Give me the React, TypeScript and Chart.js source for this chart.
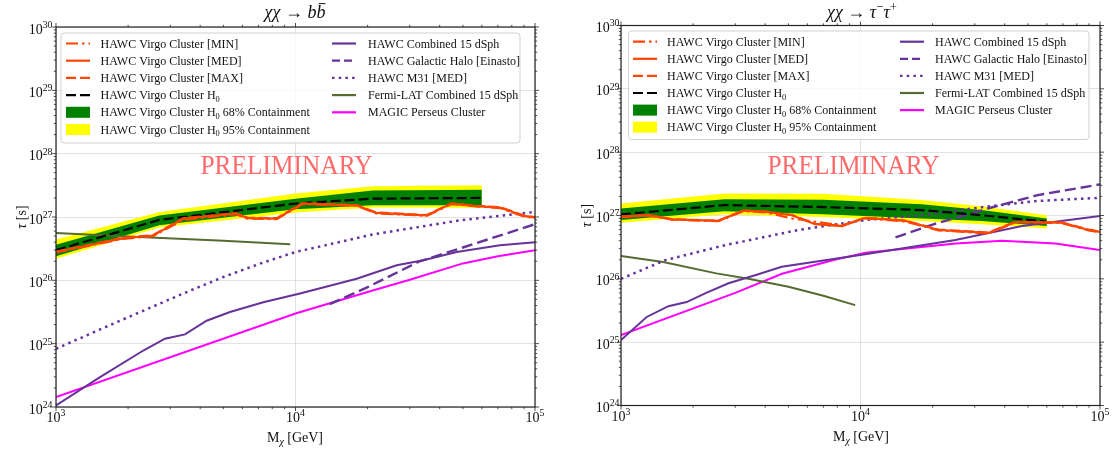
import React, { useEffect, useRef } from 'react';
import { Chart, registerables } from 'chart.js';

Chart.register(...registerables);

// ---------------- χχ → b b̄ (left panel) ----------------
const bbBandMass = [1000, 2700, 10000, 21000, 60000];
const bbH0 = [3.0e26, 9.0e26, 1.63e27, 1.95e27, 2.0e27];
const bbGreenHi = [3.66e26, 1.06e27, 1.95e27, 2.63e27, 2.7e27];
const bbGreenLo = [2.39e26, 7.4e26, 1.33e27, 1.53e27, 1.53e27];
const bbYellowHi = [4.4e26, 1.2e27, 2.35e27, 3.05e27, 3.17e27];
const bbYellowLo = [2.2e26, 6.8e26, 1.18e27, 1.41e27, 1.4e27];

const bbVirgoMass = [1000, 1900, 2550, 3390, 5630, 6300, 8350, 9480, 10700, 18000, 21700, 35300, 44850, 56900, 71500, 89800, 100000];
const bbVirgoMed = [2.8e26, 4.6e26, 5.1e26, 9.4e26, 1.13e27, 9.6e26, 9.4e26, 1.25e27, 1.63e27, 1.53e27, 1.16e27, 1.06e27, 1.63e27, 1.48e27, 1.41e27, 1.04e27, 9.8e26];
const bbVirgoMin = [2.75e26, 4.5e26, 5.0e26, 9.0e26, 1.1e27, 9.4e26, 9.2e26, 1.22e27, 1.6e27, 1.5e27, 1.14e27, 1.04e27, 1.6e27, 1.46e27, 1.38e27, 1.02e27, 9.6e26];
const bbVirgoMax = [2.85e26, 4.7e26, 5.2e26, 9.6e26, 1.15e27, 9.8e26, 9.6e26, 1.27e27, 1.65e27, 1.55e27, 1.18e27, 1.08e27, 1.65e27, 1.5e27, 1.43e27, 1.06e27, 1.0e27];

const bbFermiMass = [1000, 2000, 5000, 9500];
const bbFermi = [5.6e26, 4.9e26, 4.2e26, 3.7e26];

const bbM31Mass = [1000, 1800, 3400, 5000, 7300, 10000, 21000, 49000, 100000];
const bbM31 = [8.3e24, 2.2e25, 6.2e25, 1.13e26, 1.9e26, 2.8e26, 5.3e26, 8.9e26, 1.2e27];

const bbDsphMass = [1000, 1527, 2315, 2851, 3456, 4256, 5327, 7337, 10440, 18010, 26460, 34170, 47100, 71450, 100000];
const bbDsph = [1.06e24, 2.97e24, 7.8e24, 1.2e25, 1.4e25, 2.3e25, 3.16e25, 4.5e25, 6.2e25, 1.06e26, 1.73e26, 2.07e26, 2.8e26, 3.57e26, 4.0e26];

const bbHaloMass = [13900, 20000, 33000, 50000, 100000];
const bbHalo = [4.2e25, 7.8e25, 2.0e26, 3.3e26, 7.7e26];

const bbMagicMass = [1000, 10000, 21000, 30000, 50000, 70000, 100000];
const bbMagic = [1.43e24, 3.0e25, 6.9e25, 1.02e26, 1.85e26, 2.4e26, 3.0e26];

// ---------------- χχ → τ⁻τ⁺ (right panel) ----------------
const ttBandMass = [1000, 2700, 7000, 18000, 32000, 60000];
const ttH0 = [1.04e27, 1.46e27, 1.36e27, 1.22e27, 1.01e27, 7.95e26];
const ttGreenHi = [1.29e27, 1.8e27, 1.78e27, 1.5e27, 1.22e27, 9.0e26];
const ttGreenLo = [8.5e26, 1.17e27, 1.05e27, 9.0e26, 8.2e26, 6.8e26];
const ttYellowHi = [1.55e27, 2.23e27, 2.2e27, 1.75e27, 1.4e27, 1.01e27];
const ttYellowLo = [7.7e26, 1.05e27, 9.5e26, 8.2e26, 7.3e26, 6.25e26];

const ttVirgoMass = [1000, 1300, 1630, 2550, 3240, 4000, 5170, 6470, 8370, 10470, 15400, 21200, 34200, 44400, 69000, 89700, 100000];
const ttVirgoMed = [9.5e26, 1.01e27, 8.7e26, 8.2e26, 1.19e27, 1.15e27, 1.01e27, 7.3e26, 6.8e26, 9.2e26, 8.2e26, 5.9e26, 5.3e26, 7.9e26, 7.7e26, 5.9e26, 5.5e26];
const ttVirgoMin = [9.4e26, 1.0e27, 8.6e26, 8.1e26, 1.17e27, 1.12e27, 9.0e26, 8.0e26, 7.0e26, 9.0e26, 8.0e26, 5.8e26, 5.2e26, 7.8e26, 7.6e26, 5.8e26, 5.4e26];
const ttVirgoMax = [9.6e26, 1.02e27, 8.8e26, 8.3e26, 1.2e27, 1.16e27, 1.02e27, 7.4e26, 6.9e26, 9.3e26, 8.3e26, 6.0e26, 5.4e26, 8.0e26, 7.8e26, 6.0e26, 5.6e26];

const ttFermiMass = [1000, 1500, 2500, 3400, 5000, 7000, 9500];
const ttFermi = [2.3e26, 1.85e26, 1.22e26, 1.0e26, 7.5e25, 5.4e25, 3.85e25];

const ttM31Mass = [1000, 1530, 2720, 5500, 10500, 18100, 32000, 55000, 100000];
const ttM31 = [1.0e26, 1.97e26, 3.4e26, 5.9e26, 8.5e26, 1.01e27, 1.35e27, 1.7e27, 1.9e27];

const ttHaloMass = [14000, 20000, 34000, 55000, 100000];
const ttHalo = [4.5e26, 7.2e26, 1.29e27, 2.1e27, 3.1e27];

const ttDsphMass = [1000, 1280, 1577, 1880, 2245, 2810, 3630, 4690, 10460, 24900, 47300, 100000];
const ttDsph = [1.08e25, 2.5e25, 3.7e25, 4.3e25, 5.9e25, 8.5e25, 1.14e26, 1.55e26, 2.45e26, 4.1e26, 6.8e26, 9.8e26];

const ttMagicMass = [1000, 3000, 4700, 7800, 10500, 25000, 39000, 65000, 100000];
const ttMagic = [1.29e25, 6.0e25, 1.2e26, 2.0e26, 2.58e26, 3.6e26, 4.0e26, 3.6e26, 2.84e26];

// ---------------- axes ----------------
const xDecades = [1e3, 1e4, 1e5];
const xExponents = ['3', '4', '5'];
const yDecades = [1e24, 1e25, 1e26, 1e27, 1e28, 1e29, 1e30];
const yExponents = ['24', '25', '26', '27', '28', '29', '30'];

// ---------------- styles ----------------
const FONT = "'Liberation Serif', 'DejaVu Serif', serif";
const ORANGE = '#ff4500';
const PURPLE = '#663399';
const OLIVE = '#556b2f';
const MAGENTA = '#ff00ff';
const GREEN = '#008000';
const YELLOW = '#ffff00';
const DASH = [10, 4];
const DASHDOT = [12, 4, 2.5, 4];
const DOT = [2.5, 4.2];
const HALODASH = [11, 5];

type Seg = { t: string; sup?: boolean; sub?: boolean; it?: boolean; bar?: boolean };

function segFont(s: Seg, size: number) {
  const sz = s.sup || s.sub ? size * 0.7 : size;
  return `${s.it ? 'italic ' : ''}${sz}px ${FONT}`;
}
function richWidth(ctx: CanvasRenderingContext2D, segs: Seg[], size: number) {
  let w = 0;
  for (const s of segs) {
    ctx.font = segFont(s, size);
    w += ctx.measureText(s.t).width;
  }
  return w;
}
function drawRich(ctx: CanvasRenderingContext2D, segs: Seg[], x: number, y: number, size: number, align: 'left' | 'center' | 'right') {
  const w = richWidth(ctx, segs, size);
  let cx = align === 'left' ? x : align === 'right' ? x - w : x - w / 2;
  ctx.textAlign = 'left';
  ctx.textBaseline = 'alphabetic';
  for (const s of segs) {
    ctx.font = segFont(s, size);
    const dy = s.sup ? -size * 0.4 : s.sub ? size * 0.22 : 0;
    ctx.fillText(s.t, cx, y + dy);
    const sw = ctx.measureText(s.t).width;
    if (s.bar) {
      ctx.save();
      ctx.strokeStyle = ctx.fillStyle as string;
      ctx.lineWidth = 1;
      ctx.beginPath();
      ctx.moveTo(cx + sw * 0.25, y - size * 0.8);
      ctx.lineTo(cx + sw * 1.0, y - size * 0.8);
      ctx.stroke();
      ctx.restore();
    }
    cx += sw;
  }
}

type Handle = { kind: 'line' | 'rect'; color: string; dash?: number[] };
type Entry = { segs: Seg[]; h: Handle };

const legendCol1: Entry[] = [
  { segs: [{ t: 'HAWC Virgo Cluster [MIN]' }], h: { kind: 'line', color: ORANGE, dash: DASHDOT } },
  { segs: [{ t: 'HAWC Virgo Cluster [MED]' }], h: { kind: 'line', color: ORANGE, dash: [] } },
  { segs: [{ t: 'HAWC Virgo Cluster [MAX]' }], h: { kind: 'line', color: ORANGE, dash: DASH } },
  { segs: [{ t: 'HAWC Virgo Cluster H' }, { t: '0', sub: true }], h: { kind: 'line', color: '#000', dash: DASH } },
  { segs: [{ t: 'HAWC Virgo Cluster H' }, { t: '0', sub: true }, { t: ' 68% Containment' }], h: { kind: 'rect', color: GREEN } },
  { segs: [{ t: 'HAWC Virgo Cluster H' }, { t: '0', sub: true }, { t: ' 95% Containment' }], h: { kind: 'rect', color: YELLOW } },
];
const legendCol2: Entry[] = [
  { segs: [{ t: 'HAWC Combined 15 dSph' }], h: { kind: 'line', color: PURPLE, dash: [] } },
  { segs: [{ t: 'HAWC Galactic Halo [Einasto]' }], h: { kind: 'line', color: PURPLE, dash: [8, 4] } },
  { segs: [{ t: 'HAWC M31 [MED]' }], h: { kind: 'line', color: PURPLE, dash: DOT } },
  { segs: [{ t: 'Fermi-LAT Combined 15 dSph' }], h: { kind: 'line', color: OLIVE, dash: [] } },
  { segs: [{ t: 'MAGIC Perseus Cluster' }], h: { kind: 'line', color: MAGENTA, dash: [] } },
];

type PanelCfg = {
  canvasW: number;
  area: { left: number; top: number; right: number; bottom: number };
  title: Seg[];
  titleX: number;
  box: { x: number; y: number; w: number; h: number };
  rowY0: number;
  rowDy: number;
  col1: number;
  text1: number;
  col2: number;
  text2: number;
  prelimX: number;
  prelimY: number;
  ylabelX: number;
  ytickGap: number;
  xlabelX: number;
};

const LEFT_CFG: PanelCfg = {
  canvasW: 556,
  area: { left: 56, top: 27, right: 535, bottom: 407 },
  title: [{ t: 'χχ', it: true }, { t: ' → ' }, { t: 'b', it: true }, { t: 'b', it: true, bar: true }],
  titleX: 295,
  box: { x: 61, y: 33, w: 459, h: 110 },
  rowY0: 43.5,
  rowDy: 17.2,
  col1: 66,
  text1: 100.5,
  col2: 332,
  text2: 368,
  prelimX: 286.5,
  prelimY: 173.5,
  ylabelX: 26,
  ytickGap: 3.5,
  xlabelX: 295,
};

const RIGHT_CFG: PanelCfg = {
  canvasW: 557,
  area: { left: 65, top: 25.5, right: 544, bottom: 405.5 },
  title: [{ t: 'χχ', it: true }, { t: ' → ' }, { t: 'τ', it: true }, { t: '−', sup: true }, { t: 'τ', it: true }, { t: '+', sup: true }],
  titleX: 306,
  box: { x: 72.5, y: 31, w: 460.5, h: 108.5 },
  rowY0: 41.7,
  rowDy: 17.1,
  col1: 77,
  text1: 111,
  col2: 344,
  text2: 379,
  prelimX: 297.5,
  prelimY: 173.5,
  ylabelX: 34.5,
  ytickGap: 1.5,
  xlabelX: 305,
};

function makeDeco(cfg: PanelCfg) {
  return {
    id: 'deco',
    afterDatasetsDraw(chart: any) {
      const ctx: CanvasRenderingContext2D = chart.ctx;
      const ca = chart.chartArea;
      const xs = chart.scales.x;
      const ys = chart.scales.y;
      ctx.save();

      // PRELIMINARY
      ctx.font = `28px ${FONT}`;
      const pw = ctx.measureText('PRELIMINARY').width;
      ctx.save();
      ctx.translate(cfg.prelimX, cfg.prelimY);
      ctx.scale(172 / pw, 1);
      ctx.fillStyle = 'rgba(255, 80, 80, 0.85)';
      ctx.textAlign = 'center';
      ctx.textBaseline = 'alphabetic';
      ctx.fillText('PRELIMINARY', 0, 0);
      ctx.restore();

      // frame
      ctx.strokeStyle = '#222';
      ctx.lineWidth = 1.2;
      ctx.strokeRect(ca.left, ca.top, ca.right - ca.left, ca.bottom - ca.top);

      // ticks (outward on all sides)
      ctx.lineWidth = 0.8;
      ctx.strokeStyle = '#222';
      ctx.beginPath();
      for (let e = 3; e <= 5; e++) {
        for (let m = 1; m <= 9; m++) {
          const v = m * Math.pow(10, e);
          if (v > 1e5 * 1.0001) break;
          const px = xs.getPixelForValue(v);
          const len = m === 1 ? 4 : 2.2;
          ctx.moveTo(px, ca.bottom); ctx.lineTo(px, ca.bottom + len);
          ctx.moveTo(px, ca.top); ctx.lineTo(px, ca.top - len);
        }
      }
      for (let e = 24; e <= 30; e++) {
        for (let m = 1; m <= 9; m++) {
          const v = m * Math.pow(10, e);
          if (v > 1e30 * 1.0001) break;
          const py = ys.getPixelForValue(v);
          const len = m === 1 ? 4 : 2.2;
          ctx.moveTo(ca.left, py); ctx.lineTo(ca.left - len, py);
          ctx.moveTo(ca.right, py); ctx.lineTo(ca.right + len, py);
        }
      }
      ctx.stroke();

      // tick labels
      ctx.fillStyle = '#111';
      yDecades.forEach((v, i) => {
        const py = ys.getPixelForValue(v);
        drawRich(ctx, [{ t: '10' }, { t: yExponents[i], sup: true }], ca.left - cfg.ytickGap, py + 6.5, 14, 'right');
      });
      xDecades.forEach((v, i) => {
        const px = xs.getPixelForValue(v);
        drawRich(ctx, [{ t: '10' }, { t: xExponents[i], sup: true }], px, ca.bottom + 15, 14, 'center');
      });

      // axis titles
      drawRich(ctx, [{ t: 'M' }, { t: 'χ', sub: true, it: true }, { t: ' [GeV]' }], cfg.xlabelX, ca.bottom + 35, 14, 'center');
      ctx.save();
      ctx.translate(cfg.ylabelX, (ca.top + ca.bottom) / 2);
      ctx.rotate(-Math.PI / 2);
      drawRich(ctx, [{ t: 'τ', it: true }, { t: ' [s]' }], 0, 0, 14, 'center');
      ctx.restore();

      // title
      drawRich(ctx, cfg.title, cfg.titleX, 18, 18, 'center');

      // legend
      const b = cfg.box;
      ctx.beginPath();
      (ctx as any).roundRect(b.x, b.y, b.w, b.h, 3);
      ctx.fillStyle = 'rgba(255,255,255,0.8)';
      ctx.fill();
      ctx.strokeStyle = '#d0d0d0';
      ctx.lineWidth = 1;
      ctx.stroke();
      const drawEntries = (entries: Entry[], hx: number, tx: number) => {
        entries.forEach((en, i) => {
          const y = cfg.rowY0 + i * cfg.rowDy;
          if (en.h.kind === 'rect') {
            ctx.fillStyle = en.h.color;
            ctx.fillRect(hx, y - 5.5, 24, 11);
          } else {
            ctx.save();
            ctx.strokeStyle = en.h.color;
            ctx.lineWidth = 2.2;
            ctx.setLineDash(en.h.dash || []);
            ctx.beginPath();
            ctx.moveTo(hx, y);
            ctx.lineTo(hx + 24, y);
            ctx.stroke();
            ctx.restore();
          }
          ctx.fillStyle = '#111';
          drawRich(ctx, en.segs, tx, y + 4, 12, 'left');
        });
      };
      drawEntries(legendCol1, cfg.col1, cfg.text1);
      drawEntries(legendCol2, cfg.col2, cfg.text2);

      ctx.restore();
    },
  };
}

function pts(xs: number[], ys: number[]) {
  return xs.map((x, i) => ({ x, y: ys[i] }));
}
function line(label: string, xs: number[], ys: number[], color: string, dash: number[], width: number, order = 0) {
  return {
    label,
    data: pts(xs, ys),
    borderColor: color,
    backgroundColor: color,
    borderWidth: width,
    borderDash: dash,
    pointRadius: 0,
    fill: false,
    tension: 0,
    order,
  };
}
function band(label: string, xs: number[], ys: number[], color: string | null, order: number) {
  return {
    label,
    data: pts(xs, ys),
    borderColor: 'rgba(0,0,0,0)',
    backgroundColor: color || 'rgba(0,0,0,0)',
    borderWidth: 0,
    pointRadius: 0,
    fill: color ? '+1' : false,
    tension: 0,
    order,
  };
}

type PanelData = {
  bandMass: number[]; h0: number[]; gHi: number[]; gLo: number[]; yHi: number[]; yLo: number[];
  virgoMass: number[]; med: number[]; min: number[]; max: number[];
  fermiMass: number[]; fermi: number[]; m31Mass: number[]; m31: number[];
  dsphMass: number[]; dsph: number[]; haloMass: number[]; halo: number[];
  magicMass: number[]; magic: number[];
};

function buildDatasets(d: PanelData) {
  return [
    band('95% hi', d.bandMass, d.yHi, YELLOW, 20),
    band('95% lo', d.bandMass, d.yLo, null, 19),
    band('68% hi', d.bandMass, d.gHi, GREEN, 18),
    band('68% lo', d.bandMass, d.gLo, null, 17),
    line('HAWC Virgo Cluster [MED]', d.virgoMass, d.med, ORANGE, [], 2.2),
    line('HAWC Virgo Cluster [MIN]', d.virgoMass, d.min, ORANGE, DASHDOT, 2),
    line('HAWC Virgo Cluster [MAX]', d.virgoMass, d.max, ORANGE, DASH, 2),
    line('HAWC Virgo Cluster H0', d.bandMass, d.h0, '#000', DASH, 2.2),
    line('HAWC Combined 15 dSph', d.dsphMass, d.dsph, PURPLE, [], 2),
    line('HAWC Galactic Halo [Einasto]', d.haloMass, d.halo, PURPLE, HALODASH, 2.4),
    line('HAWC M31 [MED]', d.m31Mass, d.m31, PURPLE, DOT, 2.5),
    line('Fermi-LAT Combined 15 dSph', d.fermiMass, d.fermi, OLIVE, [], 2),
    line('MAGIC Perseus Cluster', d.magicMass, d.magic, MAGENTA, [], 2),
  ];
}

const BB_DATA: PanelData = {
  bandMass: bbBandMass, h0: bbH0, gHi: bbGreenHi, gLo: bbGreenLo, yHi: bbYellowHi, yLo: bbYellowLo,
  virgoMass: bbVirgoMass, med: bbVirgoMed, min: bbVirgoMin, max: bbVirgoMax,
  fermiMass: bbFermiMass, fermi: bbFermi, m31Mass: bbM31Mass, m31: bbM31,
  dsphMass: bbDsphMass, dsph: bbDsph, haloMass: bbHaloMass, halo: bbHalo,
  magicMass: bbMagicMass, magic: bbMagic,
};
const TT_DATA: PanelData = {
  bandMass: ttBandMass, h0: ttH0, gHi: ttGreenHi, gLo: ttGreenLo, yHi: ttYellowHi, yLo: ttYellowLo,
  virgoMass: ttVirgoMass, med: ttVirgoMed, min: ttVirgoMin, max: ttVirgoMax,
  fermiMass: ttFermiMass, fermi: ttFermi, m31Mass: ttM31Mass, m31: ttM31,
  dsphMass: ttDsphMass, dsph: ttDsph, haloMass: ttHaloMass, halo: ttHalo,
  magicMass: ttMagicMass, magic: ttMagic,
};

function makeChart(canvas: HTMLCanvasElement, cfg: PanelCfg, data: PanelData) {
  const a = cfg.area;
  const gridColor = 'rgba(150,150,150,0.35)';
  return new Chart(canvas, {
    type: 'line',
    data: { datasets: buildDatasets(data) as any },
    options: {
      responsive: false,
      animation: false,
      devicePixelRatio: 1,
      events: [],
      layout: { padding: { left: 0, top: a.top, right: cfg.canvasW - a.right, bottom: 0 } },
      plugins: {
        legend: { display: false },
        title: { display: false },
        tooltip: { enabled: false },
      },
      scales: {
        x: {
          type: 'logarithmic',
          min: 1e3,
          max: 1e5,
          ticks: { display: false },
          border: { display: false },
          grid: { color: gridColor, lineWidth: 0.8, drawTicks: false },
          afterBuildTicks: (s: any) => {
            s.ticks = xDecades.map((v) => ({ value: v }));
          },
          afterFit: (s: any) => {
            s.height = 450 - a.bottom;
          },
        },
        y: {
          type: 'logarithmic',
          min: 1e24,
          max: 1e30,
          ticks: { display: false },
          border: { display: false },
          grid: { color: gridColor, lineWidth: 0.8, drawTicks: false },
          afterBuildTicks: (s: any) => {
            s.ticks = yDecades.map((v) => ({ value: v }));
          },
          afterFit: (s: any) => {
            s.width = a.left;
          },
        },
      },
    } as any,
    plugins: [makeDeco(cfg)],
  });
}

export default function App() {
  const leftRef = useRef<HTMLCanvasElement>(null);
  const rightRef = useRef<HTMLCanvasElement>(null);
  useEffect(() => {
    const c1 = makeChart(leftRef.current as HTMLCanvasElement, LEFT_CFG, BB_DATA);
    const c2 = makeChart(rightRef.current as HTMLCanvasElement, RIGHT_CFG, TT_DATA);
    return () => {
      c1.destroy();
      c2.destroy();
    };
  }, []);
  return (
    <div style={{ position: 'absolute', left: 0, top: 0, width: 1113, height: 450, background: '#fff', overflow: 'hidden' }}>
      <canvas ref={leftRef} width={556} height={450} style={{ position: 'absolute', left: 0, top: 0, width: 556, height: 450 }} />
      <canvas ref={rightRef} width={557} height={450} style={{ position: 'absolute', left: 556, top: 0, width: 557, height: 450 }} />
    </div>
  );
}
